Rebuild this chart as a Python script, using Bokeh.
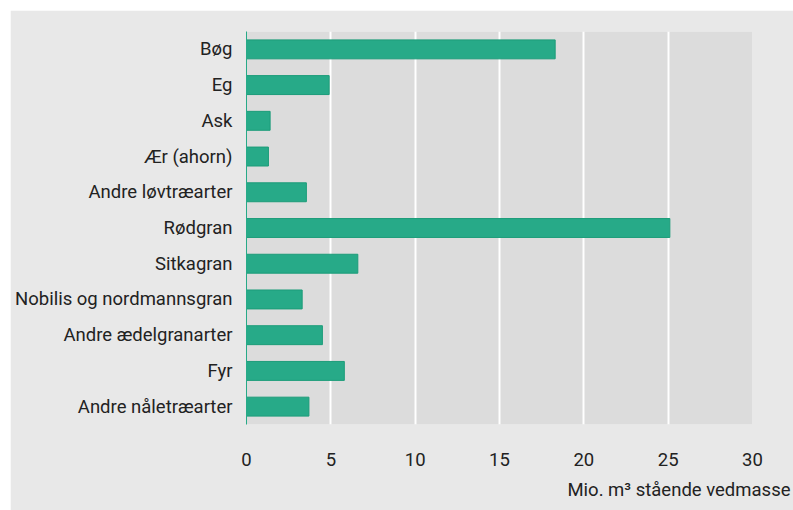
from bokeh.plotting import figure
from bokeh.models import FactorRange, Range1d, FixedTicker, Title
from bokeh.embed import file_html
from bokeh.resources import INLINE

categories = ["Bøg", "Eg", "Ask", "Ær (ahorn)", "Andre løvtræarter", "Rødgran",
              "Sitkagran", "Nobilis og nordmannsgran", "Andre ædelgranarter", "Fyr",
              "Andre nåletræarter"]
values = [18.3, 4.9, 1.4, 1.3, 3.55, 25.1, 6.6, 3.3, 4.5, 5.8, 3.7]
x_ticks = [0, 5, 10, 15, 20, 25, 30]
x_title = "Mio. m³ stående vedmasse"

FONT = "Roboto"
FSIZE = "18.5px"
GREEN = "#27aa88"

p = figure(y_range=FactorRange(factors=list(reversed(categories))),
           x_range=Range1d(0, 30),
           width=783, height=500, output_backend="svg", toolbar_location=None,
           min_border_left=236, min_border_right=41, min_border_top=21,
           min_border_bottom=86)
p.margin = (10, 0, 0, 10)

p.background_fill_color = "#dcdcdc"
p.border_fill_color = "#e8e8e8"
p.outline_line_color = None

p.hbar(y=categories, right=values, left=0, height=0.53,
       fill_color=GREEN, line_color="#1c9c79", line_width=1)

p.ygrid.grid_line_color = None
p.xgrid.grid_line_color = "white"
p.xgrid.grid_line_width = 2
p.xgrid.ticker = FixedTicker(ticks=x_ticks)

p.xaxis.ticker = FixedTicker(ticks=x_ticks)
p.xaxis.axis_line_color = None
p.xaxis.major_tick_line_color = None
p.xaxis.minor_tick_line_color = None
p.xaxis.major_tick_out = 0
p.xaxis.major_label_standoff = 28
p.xaxis.major_label_text_font = FONT
p.xaxis.major_label_text_font_size = FSIZE
p.xaxis.major_label_text_color = "#222222"

p.yaxis.axis_line_color = GREEN
p.yaxis.axis_line_width = 1
p.yaxis.major_tick_line_color = None
p.yaxis.major_tick_out = 0
p.yaxis.major_label_standoff = 14
p.yaxis.major_label_text_font = FONT
p.yaxis.major_label_text_font_size = FSIZE
p.yaxis.major_label_text_color = "#222222"

p.add_layout(Title(text=x_title, align="right", offset=-38, standoff=17,
                   text_font=FONT, text_font_size=FSIZE, text_font_style="normal",
                   text_color="#222222"), "below")

open("out.html", "w").write(file_html(p, INLINE))
